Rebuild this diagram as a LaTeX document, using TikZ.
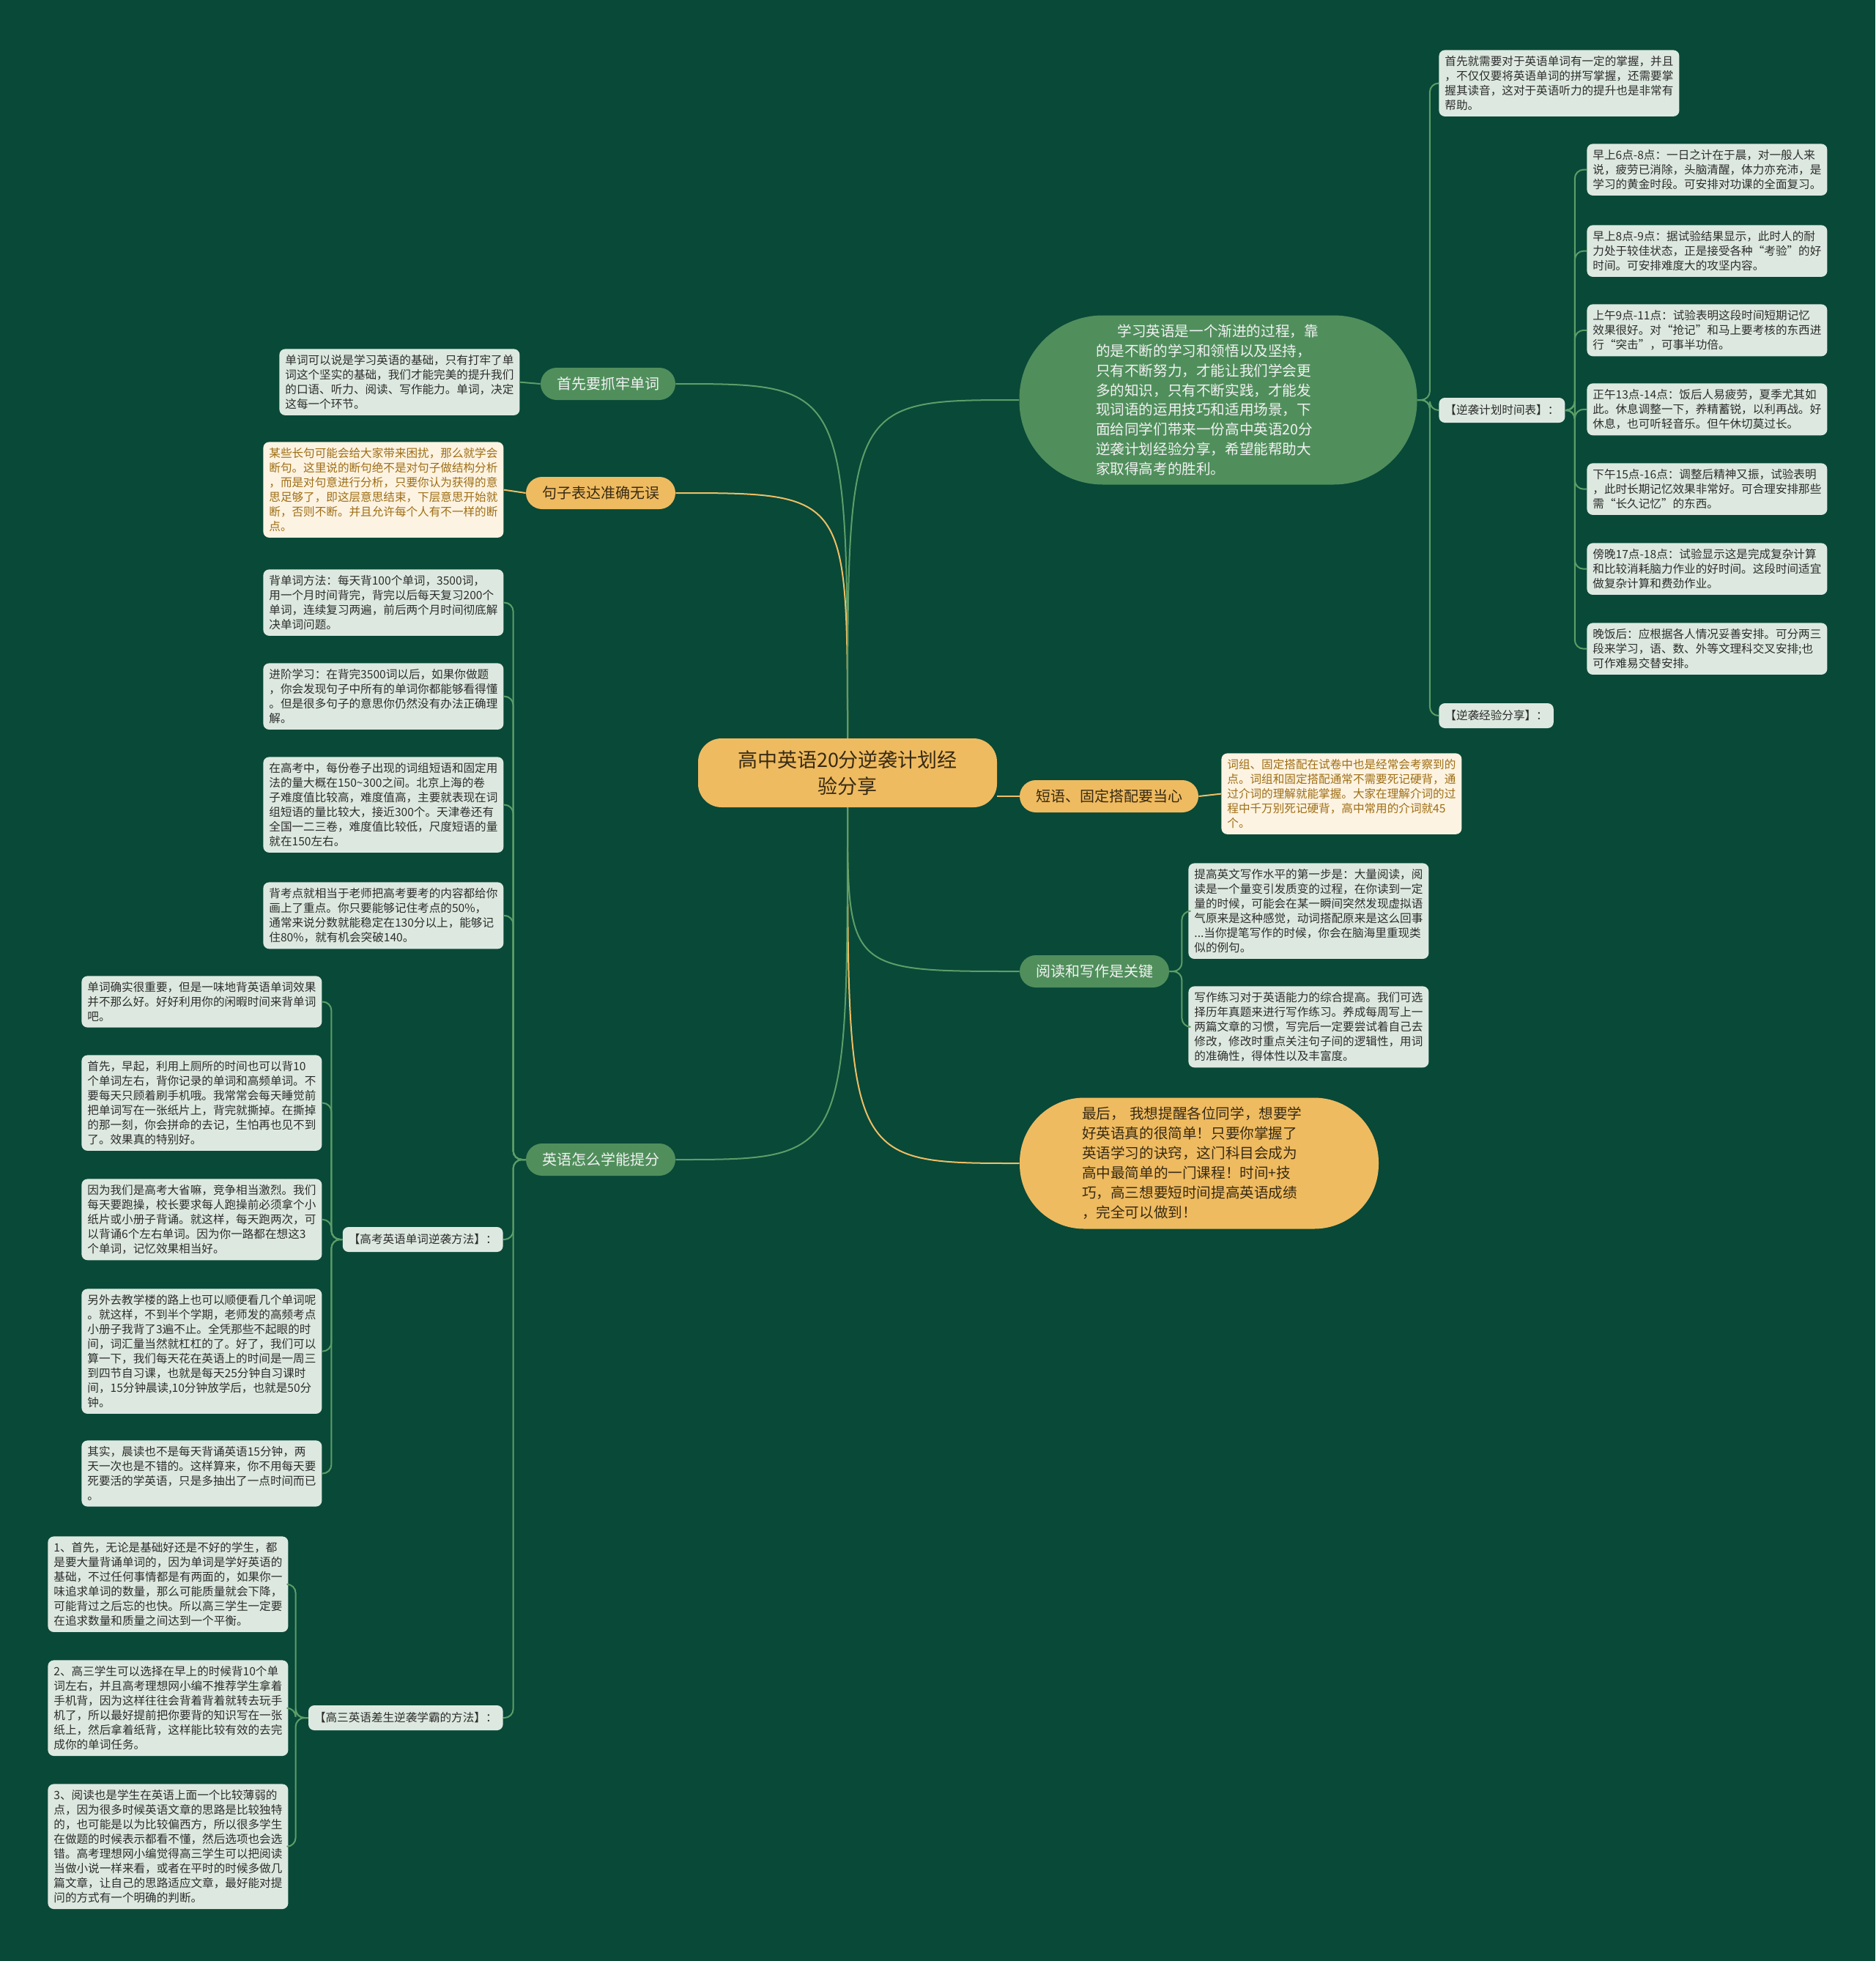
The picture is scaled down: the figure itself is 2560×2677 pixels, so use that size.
\documentclass[tikz,border=0pt]{standalone}
\usepackage{fontspec}
\setmainfont{Noto Sans CJK SC}
\definecolor{bgc}{RGB}{9,73,56}
\definecolor{boxc}{RGB}{221,233,224}
\definecolor{txtc}{RGB}{45,45,45}
\definecolor{creamc}{RGB}{253,243,226}
\definecolor{creamtxt}{RGB}{158,110,20}
\definecolor{gpillc}{RGB}{80,143,92}
\definecolor{ypillc}{RGB}{239,187,96}
\definecolor{ytxtc}{RGB}{55,42,20}
\definecolor{glinec}{RGB}{92,158,104}
\definecolor{ylinec}{RGB}{239,190,100}
\definecolor{wtxtc}{RGB}{242,242,242}
\tikzset{
  tbox/.style={fill=boxc, text=txtc, rounded corners=4pt, inner xsep=4pt, inner ysep=4pt,
    text width=156pt, align=left, anchor=north west, font=\fontsize{7.8pt}{10pt}\selectfont},
  cbox/.style={tbox, fill=creamc, text=creamtxt},
  lbl/.style={fill=boxc, text=txtc, rounded corners=4pt, inner xsep=4pt, inner ysep=0pt,
    minimum height=17pt, font=\fontsize{7.8pt}{10pt}\selectfont},
  gpill/.style={fill=gpillc, text=wtxtc, rounded corners=11pt, minimum height=22pt,
    inner xsep=11pt, inner ysep=0pt, font=\fontsize{10pt}{12pt}\selectfont},
  ypill/.style={gpill, fill=ypillc, text=ytxtc},
  gline/.style={draw=glinec, line width=1pt},
  yline/.style={draw=ylinec, line width=1pt},
  rootnode/.style={fill=ypillc, text=ytxtc, rounded corners=16pt, minimum width=204pt,
    minimum height=47pt, align=center, font=\fontsize{13.5pt}{18pt}\selectfont},
  intronode/.style={fill=gpillc, text=wtxtc, rounded corners=57pt, minimum width=271.5pt,
    minimum height=115.5pt, text width=167pt, align=left, font=\fontsize{9.8pt}{13.4pt}\selectfont},
  finnode/.style={fill=ypillc, text=ytxtc, rounded corners=44pt, minimum width=245pt,
    minimum height=89.5pt, text width=160pt, align=left, font=\fontsize{9.8pt}{13.5pt}\selectfont},
}
\begin{document}
\begin{tikzpicture}[x=0.5pt, y=-0.5pt]
\fill[bgc] (0,0) rectangle (2560,2677);
\useasboundingbox (0,0) rectangle (2560,2677);

% root
\node[rootnode] (root) at (1157,1055) {高中英语20分逆袭计划经\\验分享};

% right side
\node[intronode] (intro) at (1663,546) {\hspace*{1.5em}学习英语是一个渐进的过程，靠\\的是不断的学习和领悟以及坚持，\\只有不断努力，才能让我们学会更\\多的知识，只有不断实践，才能发\\现词语的运用技巧和适用场景，下\\面给同学们带来一份高中英语20分\\逆袭计划经验分享，希望能帮助大\\家取得高考的胜利。};

\node[tbox] (top) at (1964,68) {首先就需要对于英语单词有一定的掌握，并且\\，不仅仅要将英语单词的拼写掌握，还需要掌\\握其读音，这对于英语听力的提升也是非常有\\帮助。};
\node[lbl, anchor=west] (plan) at (1964,560) {【逆袭计划时间表】：};
\node[lbl, anchor=west] (share) at (1964,977) {【逆袭经验分享】：};

\node[tbox] (t1) at (2166,196) {早上6点-8点：一日之计在于晨，对一般人来\\说，疲劳已消除，头脑清醒，体力亦充沛，是\\学习的黄金时段。可安排对功课的全面复习。};
\node[tbox] (t2) at (2166,307) {早上8点-9点：据试验结果显示，此时人的耐\\力处于较佳状态，正是接受各种“考验”的好\\时间。可安排难度大的攻坚内容。};
\node[tbox] (t3) at (2166,415) {上午9点-11点：试验表明这段时间短期记忆\\效果很好。对“抢记”和马上要考核的东西进\\行“突击”，可事半功倍。};
\node[tbox] (t4) at (2166,523) {正午13点-14点：饭后人易疲劳，夏季尤其如\\此。休息调整一下，养精蓄锐，以利再战。好\\休息，也可听轻音乐。但午休切莫过长。};
\node[tbox] (t5) at (2166,632) {下午15点-16点：调整后精神又振，试验表明\\，此时长期记忆效果非常好。可合理安排那些\\需“长久记忆”的东西。};
\node[tbox] (t6) at (2166,741) {傍晚17点-18点：试验显示这是完成复杂计算\\和比较消耗脑力作业的好时间。这段时间适宜\\做复杂计算和费劲作业。};
\node[tbox] (t7) at (2166,850) {晚饭后：应根据各人情况妥善安排。可分两三\\段来学习，语、数、外等文理科交叉安排;也\\可作难易交替安排。};

\node[ypill] (phr) at (1514,1087) {短语、固定搭配要当心};
\node[cbox] (phrbox) at (1667,1028) {词组、固定搭配在试卷中也是经常会考察到的\\点。词组和固定搭配通常不需要死记硬背，通\\过介词的理解就能掌握。大家在理解介词的过\\程中千万别死记硬背，高中常用的介词就45\\个。};

\node[gpill] (rd) at (1494,1326) {阅读和写作是关键};
\node[tbox] (rd1) at (1622,1178) {提高英文写作水平的第一步是：大量阅读，阅\\读是一个量变引发质变的过程，在你读到一定\\量的时候，可能会在某一瞬间突然发现虚拟语\\气原来是这种感觉，动词搭配原来是这么回事\\...当你提笔写作的时候，你会在脑海里重现类\\似的例句。};
\node[tbox] (rd2) at (1622,1346) {写作练习对于英语能力的综合提高。我们可选\\择历年真题来进行写作练习。养成每周写上一\\两篇文章的习惯，写完后一定要尝试着自己去\\修改，修改时重点关注句子间的逻辑性，用词\\的准确性，得体性以及丰富度。};

\node[finnode] (fin) at (1637,1588) {最后，~我想提醒各位同学，想要学\\好英语真的很简单！只要你掌握了\\英语学习的诀窍，这门科目会成为\\高中最简单的一门课程！时间+技\\巧，高三想要短时间提高英语成绩\\，完全可以做到！};

% left side
\node[gpill] (p1) at (830,524) {首先要抓牢单词};
\node[tbox] (b1) at (381,476) {单词可以说是学习英语的基础，只有打牢了单\\词这个坚实的基础，我们才能完美的提升我们\\的口语、听力、阅读、写作能力。单词，决定\\这每一个环节。};

\node[ypill] (p2) at (820,673) {句子表达准确无误};
\node[cbox] (b2) at (359,603) {某些长句可能会给大家带来困扰，那么就学会\\断句。这里说的断句绝不是对句子做结构分析\\，而是对句意进行分析，只要你认为获得的意\\思足够了，即这层意思结束，下层意思开始就\\断，否则不断。并且允许每个人有不一样的断\\点。};

\node[gpill] (p3) at (820,1583) {英语怎么学能提分};
\node[tbox] (c1) at (359,777) {背单词方法：每天背100个单词，3500词，\\用一个月时间背完，背完以后每天复习200个\\单词，连续复习两遍，前后两个月时间彻底解\\决单词问题。};
\node[tbox] (c2) at (359,905) {进阶学习：在背完3500词以后，如果你做题\\，你会发现句子中所有的单词你都能够看得懂\\。但是很多句子的意思你仍然没有办法正确理\\解。};
\node[tbox] (c3) at (359,1033) {在高考中，每份卷子出现的词组短语和固定用\\法的量大概在150\textasciitilde300之间。北京上海的卷\\子难度值比较高，难度值高，主要就表现在词\\组短语的量比较大，接近300个。天津卷还有\\全国一二三卷，难度值比较低，尺度短语的量\\就在150左右。};
\node[tbox] (c4) at (359,1204) {背考点就相当于老师把高考要考的内容都给你\\画上了重点。你只要能够记住考点的50\%，\\通常来说分数就能稳定在130分以上，能够记\\住80\%，就有机会突破140。};
\node[lbl, anchor=east] (la) at (687,1692) {【高考英语单词逆袭方法】：};
\node[lbl, anchor=east] (lb) at (687,2345) {【高三英语差生逆袭学霸的方法】：};

\node[tbox] (a1) at (111,1332) {单词确实很重要，但是一味地背英语单词效果\\并不那么好。好好利用你的闲暇时间来背单词\\吧。};
\node[tbox] (a2) at (111,1440) {首先，早起，利用上厕所的时间也可以背10\\个单词左右，背你记录的单词和高频单词。不\\要每天只顾着刷手机哦。我常常会每天睡觉前\\把单词写在一张纸片上，背完就撕掉。在撕掉\\的那一刻，你会拼命的去记，生怕再也见不到\\了。效果真的特别好。};
\node[tbox] (a3) at (111,1609) {因为我们是高考大省嘛，竞争相当激烈。我们\\每天要跑操，校长要求每人跑操前必须拿个小\\纸片或小册子背诵。就这样，每天跑两次，可\\以背诵6个左右单词。因为你一路都在想这3\\个单词，记忆效果相当好。};
\node[tbox] (a4) at (111,1759) {另外去教学楼的路上也可以顺便看几个单词呢\\。就这样，不到半个学期，老师发的高频考点\\小册子我背了3遍不止。全凭那些不起眼的时\\间，词汇量当然就杠杠的了。好了，我们可以\\算一下，我们每天花在英语上的时间是一周三\\到四节自习课，也就是每天25分钟自习课时\\间，15分钟晨读,10分钟放学后，也就是50分\\钟。};
\node[tbox] (a5) at (111,1966) {其实，晨读也不是每天背诵英语15分钟，两\\天一次也是不错的。这样算来，你不用每天要\\死要活的学英语，只是多抽出了一点时间而已\\。};

\node[tbox] (bb1) at (65,2097) {1、首先，无论是基础好还是不好的学生，都\\是要大量背诵单词的，因为单词是学好英语的\\基础，不过任何事情都是有两面的，如果你一\\味追求单词的数量，那么可能质量就会下降，\\可能背过之后忘的也快。所以高三学生一定要\\在追求数量和质量之间达到一个平衡。};
\node[tbox] (bb2) at (65,2266) {2、高三学生可以选择在早上的时候背10个单\\词左右，并且高考理想网小编不推荐学生拿着\\手机背，因为这样往往会背着背着就转去玩手\\机了，所以最好提前把你要背的知识写在一张\\纸上，然后拿着纸背，这样能比较有效的去完\\成你的单词任务。};
\node[tbox] (bb3) at (65,2435) {3、阅读也是学生在英语上面一个比较薄弱的\\点，因为很多时候英语文章的思路是比较独特\\的，也可能是以为比较偏西方，所以很多学生\\在做题的时候表示都看不懂，然后选项也会选\\错。高考理想网小编觉得高三学生可以把阅读\\当做小说一样来看，或者在平时的时候多做几\\篇文章，让自己的思路适应文章，最好能对提\\问的方式有一个明确的判断。};

% connectors from root
\draw[gline] (root.north) .. controls (1157,524) .. (p1.east);
\draw[yline] (root.north) .. controls (1157,673) .. (p2.east);
\draw[gline] (root.north) .. controls (1157,546) .. (intro.west);
\draw[yline] (root.east |- phr.west) -- (phr.west);
\draw[gline] (root.south) .. controls (1157,1326) .. (rd.west);
\draw[yline] (root.south) .. controls (1157,1588) .. (fin.west);
\draw[gline] (root.south) .. controls (1157,1583) .. (p3.east);

% children
\draw[gline] (p1.west) -- (b1.east);
\draw[yline] (p2.west) -- (b2.east);
\draw[yline] (phr.east) -- (phrbox.west);
\foreach \c in {top,plan,share}
  \draw[gline, rounded corners=6pt] (intro.east) -- ++(17,0) |- (\c.west);
\foreach \c in {t1,t2,t3,t4,t5,t6,t7}
  \draw[gline, rounded corners=6pt] (plan.east) -- ++(13,0) |- (\c.west);
\foreach \c in {rd1,rd2}
  \draw[gline, rounded corners=6pt] (rd.east) -- ++(17,0) |- (\c.west);
\foreach \c in {c1,c2,c3,c4,la,lb}
  \draw[gline, rounded corners=6pt] (p3.west) -- ++(-17,0) |- (\c.east);
\foreach \c in {a1,a2,a3,a4,a5}
  \draw[gline, rounded corners=6pt] (la.west) -- ++(-15,0) |- (\c.east);
\foreach \c in {bb1,bb2,bb3}
  \draw[gline, rounded corners=6pt] (lb.west) -- ++(-17,0) |- (\c.east);
\end{tikzpicture}
\end{document}
